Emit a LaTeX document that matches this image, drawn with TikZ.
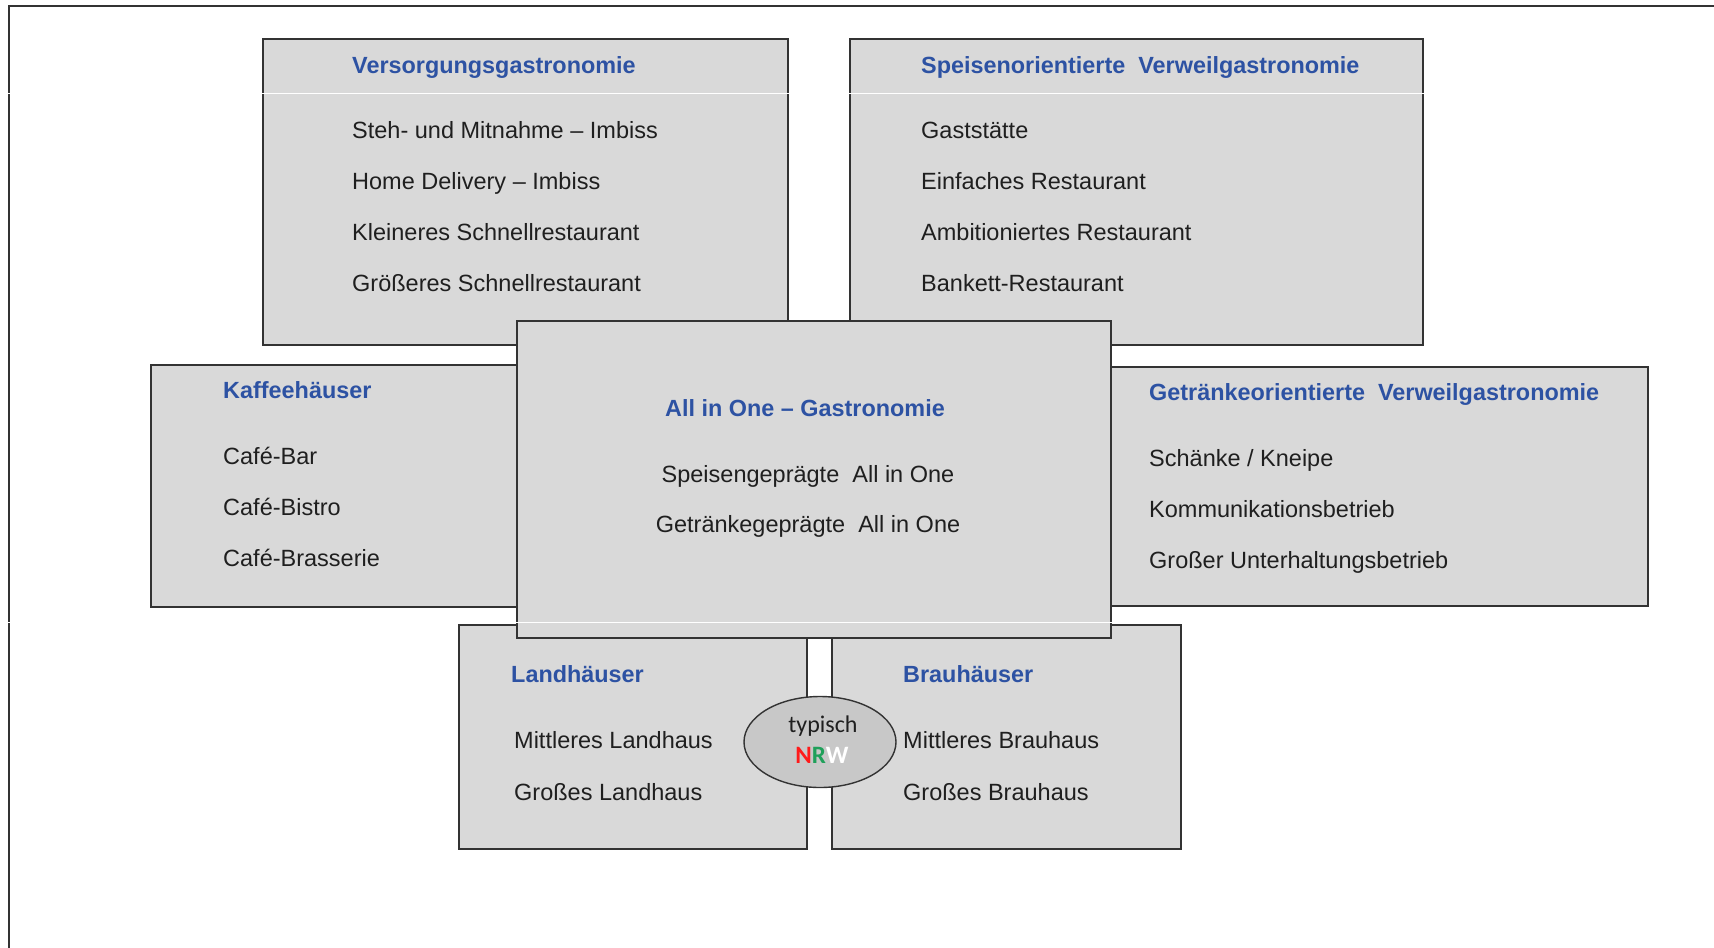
\documentclass[tikz,border=0pt]{standalone}
\usepackage{fontspec}
\setmainfont{Liberation Sans}
\newfontfamily\carlito{Carlito}
\usepackage{tikz}
\usetikzlibrary{shapes.geometric}
\definecolor{boxgray}{HTML}{D9D9D9}
\definecolor{ovalgray}{HTML}{C8C8C8}
\definecolor{titleblue}{HTML}{2D52A3}
\definecolor{nrwred}{HTML}{FF1A1A}
\definecolor{nrwgreen}{HTML}{1FA05A}
\pgfdeclarelayer{bg}
\pgfsetlayers{bg,main}

\begin{document}
\begin{tikzpicture}[x=1pt,y=-1pt,
        box/.style={rectangle, draw=black!80, line width=1.6pt, fill=boxgray, anchor=north west, inner sep=0pt},
        head/.style={anchor=base west, inner sep=0pt, text=titleblue, font=\fontsize{23.4}{28}\selectfont\bfseries},
        item/.style={anchor=base west, inner sep=0pt, text=black!88, font=\fontsize{23.5}{28}\selectfont}]
        \useasboundingbox (0,0) rectangle (1714,948);
        \begin{pgfonlayer}{bg}
                \draw [line width=2pt, black!80] (9,950) -- (9,6) -- (1716,6);
                \node (versorgung) [box, minimum width=525pt, minimum height=306pt] at (262,38) {};
                \node (speisen) [box, minimum width=573pt, minimum height=306pt] at (849,38) {};
                \node (kaffee) [box, minimum width=366pt, minimum height=242pt] at (150,364) {};
                \node (getraenke) [box, minimum width=537pt, minimum height=239pt] at (1110,366) {};
                \node (land) [box, minimum width=348pt, minimum height=224pt] at (458,624) {};
                \node (brau) [box, minimum width=349pt, minimum height=224pt] at (831,624) {};
        \end{pgfonlayer}
        \node (allinone) [box, minimum width=594pt, minimum height=317pt] at (516,320) {};

        \node (vt) [head] at (352,73) {Versorgungsgastronomie};
        \node (v1) [item] at (352,138) {Steh- und Mitnahme -- Imbiss};
        \node (v2) [item] at (352,189) {Home Delivery -- Imbiss};
        \node (v3) [item] at (352,240) {Kleineres Schnellrestaurant};
        \node (v4) [item] at (352,291) {Größeres Schnellrestaurant};

        \node (st) [head] at (921,73) {Speisenorientierte~ Verweilgastronomie};
        \node (s1) [item] at (921,138) {Gaststätte};
        \node (s2) [item] at (921,189) {Einfaches Restaurant};
        \node (s3) [item] at (921,240) {Ambitioniertes Restaurant};
        \node (s4) [item] at (921,291) {Bankett-Restaurant};

        \node (kt) [head] at (223,398) {Kaffeehäuser};
        \node (k1) [item] at (223,464) {Café-Bar};
        \node (k2) [item] at (223,515) {Café-Bistro};
        \node (k3) [item] at (223,566) {Café-Brasserie};

        \node (gt) [head] at (1149,400) {Getränkeorientierte~ Verweilgastronomie};
        \node (g1) [item] at (1149,466) {Schänke / Kneipe};
        \node (g2) [item] at (1149,517) {Kommunikationsbetrieb};
        \node (g3) [item] at (1149,568) {Großer Unterhaltungsbetrieb};

        \node (at) [head, anchor=base] at (805,416) {All in One -- Gastronomie};
        \node (a1) [item, anchor=base] at (808,482) {Speisengeprägte~ All in One};
        \node (a2) [item, anchor=base] at (808,532) {Getränkegeprägte~ All in One};

        \node (lt) [head] at (511,682) {Landhäuser};
        \node (l1) [item] at (514,748) {Mittleres Landhaus};
        \node (l2) [item] at (514,800) {Großes Landhaus};

        \node (bt) [head] at (903,682) {Brauhäuser};
        \node (b1) [item] at (903,748) {Mittleres Brauhaus};
        \node (b2) [item] at (903,800) {Großes Brauhaus};

        \node (nrw) [ellipse, draw=black!80, line width=1.4pt, fill=ovalgray, minimum width=152pt, minimum height=91pt, inner sep=0pt] at (820,742) {};
        \node (typ) [anchor=base, inner sep=0pt, text=black!88, font=\carlito\fontsize{24}{28}\selectfont] at (823,732) {typisch};
        \node (nrwtext) [anchor=base, inner sep=0pt, font=\carlito\fontsize{25}{28}\selectfont\bfseries] at (822,763) {\textcolor{nrwred}{N}\textcolor{nrwgreen}{R}\textcolor{white}{W}};

        % thin white streaks of the scan
        \draw [white, line width=0.8pt] (0,93) -- (1714,93);
        \draw [white, line width=0.8pt] (0,622) -- (1714,622);
\end{tikzpicture}
\end{document}
